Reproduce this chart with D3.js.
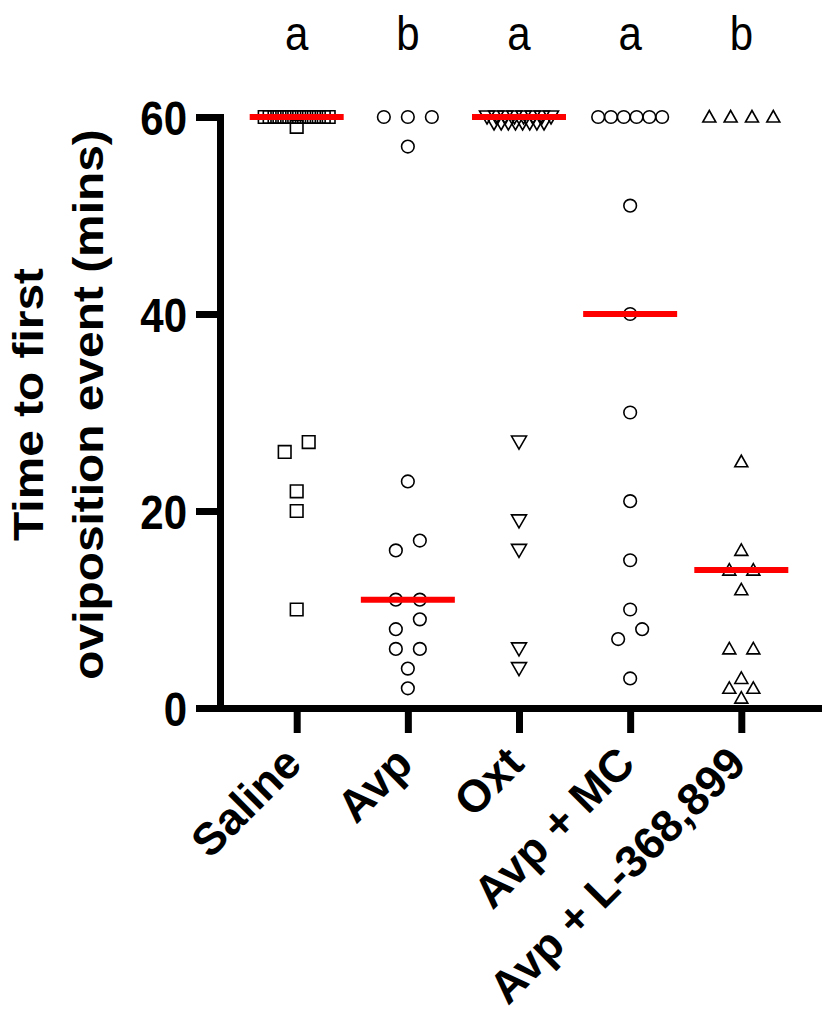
<!DOCTYPE html>
<html>
<head>
<meta charset="utf-8">
<script src="https://cdn.jsdelivr.net/npm/d3@7"></script>
<style>
  body { margin: 0; background: #fff; }
  text { font-family: "Liberation Sans", Arial, sans-serif; }
</style>
</head>
<body>
<div id="chart"></div>
<script>
const width = 827;
const height = 1033;
const margins = { top: 117, left: 220, bottom: 325, right: 9 };
const stretch = 1.14; // the figure is a little taller than wide, text included

// groups and their letters
const groups = ['Saline', 'Avp', 'Oxt', 'Avp + MC', 'Avp + L-368,899'];
const letters = ['a', 'b', 'a', 'a', 'b'];
const shapes = ['square', 'circle', 'triangleDown', 'circle', 'triangleUp'];

// time to first oviposition event (mins)
const saline = [60, 60, 60, 60, 60, 60, 60, 60, 60, 60, 60, 60, 60, 60, 59, 27, 26, 22, 20, 10];
const avp = [60, 60, 60, 57, 23, 17, 16, 11, 11, 9, 8, 6, 6, 4, 2];
const oxt = [60, 60, 60, 60, 60, 60, 60, 60, 60, 60, 60, 60, 60, 60, 60, 60, 27, 19, 16, 6, 4];
const avpMc = [60, 60, 60, 60, 60, 60, 51, 40, 30, 21, 15, 10, 8, 7, 3];
const avpL = [60, 60, 60, 60, 25, 16, 14, 14, 12, 6, 6, 3, 2, 2, 1];
const series = [saline, avp, oxt, avpMc, avpL];

const yTicks = [0, 20, 40, 60];

const svg = d3.select('#chart')
    .append('svg')
    .attr('width', width)
    .attr('height', height);

const x = d3.scalePoint()
    .domain(groups)
    .range([margins.left, width - margins.right])
    .padding(0.69);

const y = d3.scaleLinear()
    .domain([0, 60])
    .range([height - margins.bottom, margins.top]);

// spread points sideways like a column scatter
function spread(values) {
    const counts = d3.rollup(values, v => v.length, d => d);
    const pts = [];
    const row = (v, k, span, dy) => {
        const step = k > 1 ? Math.min(24, span / (k - 1)) : 0;
        for (let i = 0; i < k; i++) pts.push({ v: v, dx: (i - (k - 1) / 2) * step, dy: dy });
    };
    counts.forEach((k, v) => {
        if (k > 15) {
            const top = Math.ceil(k / 2);
            row(v, top, 64, 0);
            row(v, k - top, 50, 6);
        } else if (k > 1) {
            row(v, k, 64, 0);
        }
    });
    const singles = values.filter(v => counts.get(v) === 1).sort(d3.ascending);
    let cluster = [];
    const flush = () => {
        const k = cluster.length;
        const step = k > 1 ? Math.min(24, 64 / (k - 1)) : 0;
        cluster.forEach((v, i) => pts.push({ v: v, dx: (i - (k - 1) / 2) * step, dy: 0 }));
        cluster = [];
    };
    singles.forEach(v => {
        if (cluster.length && v - cluster[cluster.length - 1] > 1.2) flush();
        cluster.push(v);
    });
    flush();
    return pts;
}

function shapePath(kind) {
    if (kind === 'square') return 'M-6.3,-6.3H6.3V6.3H-6.3Z';
    if (kind === 'circle') return d3.symbol(d3.symbolCircle, 125)();
    if (kind === 'triangleUp') return 'M0,-6.5L6.5,5L-6.5,5Z';
    return 'M0,7L7.5,-6L-7.5,-6Z';
}

// axes
const yAxis = svg.append('g')
    .attr('transform', `translate(${margins.left},0)`)
    .call(d3.axisLeft(y).tickValues(yTicks).tickSize(24).tickSizeOuter(0).tickPadding(9));

const xAxis = svg.append('g')
    .attr('transform', `translate(0,${height - margins.bottom})`)
    .call(d3.axisBottom(x).tickSize(25).tickSizeOuter(0).tickFormat(() => ''));

xAxis.selectAll('.tick text').remove();

svg.selectAll('.domain, .tick line')
    .attr('stroke', '#000')
    .attr('stroke-width', 7);
svg.selectAll('.domain')
    .attr('stroke-linecap', 'square');

yAxis.selectAll('.tick text')
    .attr('font-size', 42)
    .attr('font-weight', 'bold')
    .attr('fill', '#000')
    .attr('dy', '0.36em')
    .attr('transform', `scale(1,${stretch})`);

// rotated group labels
svg.append('g')
    .selectAll('text')
    .data(groups)
    .enter()
    .append('text')
    .attr('transform', d => `translate(${x(d) + 7},${height - margins.bottom + 58}) rotate(-45)`)
    .attr('text-anchor', 'end')
    .attr('font-size', 45)
    .attr('font-weight', 'bold')
    .text(d => d);

// y title
const title = svg.append('text')
    .attr('transform', `translate(43,${(y(0) + y(60)) / 2 - 8}) scale(1,${stretch}) rotate(-90)`)
    .attr('text-anchor', 'middle')
    .attr('font-size', 42)
    .attr('font-weight', 'bold');
title.append('tspan').attr('x', 0).attr('dy', 0).text('Time to first');
title.append('tspan').attr('x', 0).attr('dy', 60).text('oviposition event (mins)');

// significance letters
svg.append('g')
    .selectAll('text')
    .data(letters)
    .enter()
    .append('text')
    .attr('transform', (d, i) => `translate(${x(groups[i])},50) scale(1,${stretch})`)
    .attr('text-anchor', 'middle')
    .attr('font-size', 42)
    .text(d => d);

// points
series.forEach((values, i) => {
    svg.append('g')
        .selectAll('path')
        .data(spread(values))
        .enter()
        .append('path')
        .attr('d', shapePath(shapes[i]))
        .attr('transform', d => `translate(${x(groups[i]) + d.dx},${y(d.v) + d.dy})`)
        .attr('fill', 'none')
        .attr('stroke', '#000')
        .attr('stroke-width', 1.6);
});

// medians
svg.append('g')
    .selectAll('line')
    .data(series)
    .enter()
    .append('line')
    .attr('x1', (d, i) => x(groups[i]) - 47)
    .attr('x2', (d, i) => x(groups[i]) + 47)
    .attr('y1', d => y(d3.median(d)))
    .attr('y2', d => y(d3.median(d)))
    .attr('stroke', '#ff0000')
    .attr('stroke-width', 6);
</script>
</body>
</html>
